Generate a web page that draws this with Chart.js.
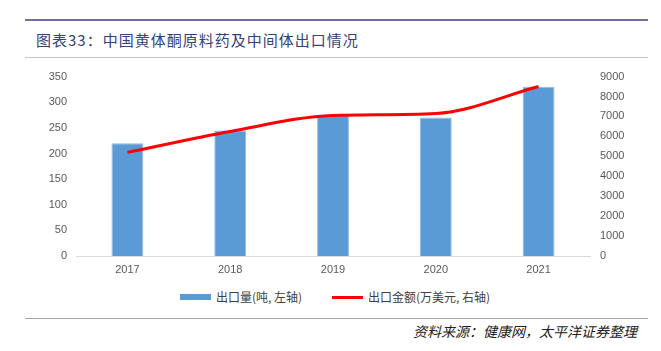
<!DOCTYPE html>
<html>
<head>
<meta charset="utf-8">
<script src="https://cdn.jsdelivr.net/npm/chart.js@4"></script>
<style>
  html, body { margin: 0; padding: 0; background: #fff; }
  #page { position: relative; width: 661px; height: 351px; overflow: hidden; font-family: "Noto Sans CJK SC", sans-serif; }
  .rule { position: absolute; left: 25px; width: 623px; }
  #top-rule { top: 19px; height: 2px; background: #6f6fa6; }
  #title-rule { top: 57px; height: 1px; background: #c3c3da; }
  #bottom-rule { top: 318px; height: 1px; background: #a3a3c2; }
  #title { position: absolute; left: 36px; top: 29px; font-size: 15px; color: #33427a; letter-spacing: 1px; white-space: nowrap; }
  #source { position: absolute; left: 413px; top: 321px; font-size: 14px; font-style: italic; color: #222; white-space: nowrap; }
  #wrap { position: absolute; left: 0; top: 60px; width: 661px; height: 222px; }
  .lg-box { position: absolute; }
  .lg-text { position: absolute; top: 288px; font-size: 12px; color: #404040; white-space: nowrap; line-height: 18px; }
</style>
</head>
<body>
<div id="page">
  <div class="rule" id="top-rule"></div>
  <div id="title">图表33：中国黄体酮原料药及中间体出口情况</div>
  <div class="rule" id="title-rule"></div>
  <div id="wrap"><canvas id="chart"></canvas></div>
  <div class="lg-box" style="left:180px; top:294px; width:31px; height:6px; background:#5b9bd5;"></div>
  <div class="lg-text" style="left:216px;">出口量(吨, 左轴)</div>
  <div class="lg-box" style="left:332px; top:296px; width:31px; height:3px; background:#ff0000;"></div>
  <div class="lg-text" style="left:368px;">出口金额(万美元, 右轴)</div>
  <div class="rule" id="bottom-rule"></div>
  <div id="source">资料来源：健康网，太平洋证券整理</div>
</div>
<script>
// 数据
const years = ['2017', '2018', '2019', '2020', '2021'];
const exportVolume = [220, 245, 275, 270, 330];      // 吨, 左轴
const exportValue = [5200, 6250, 7050, 7150, 8500];  // 万美元, 右轴
const leftTicks = [0, 50, 100, 150, 200, 250, 300, 350];
const rightTicks = [0, 1000, 2000, 3000, 4000, 5000, 6000, 7000, 8000, 9000];

const tickColor = '#595959';
const tickFont = { family: 'Liberation Sans, Arial, sans-serif', size: 11 };

const ctx = document.getElementById('chart').getContext('2d');
new Chart(ctx, {
    data: {
        labels: years,
        datasets: [
            {
                type: 'line',
                label: '出口金额(万美元,右轴)',
                data: exportValue,
                yAxisID: 'yR',
                borderColor: '#ff0000',
                borderWidth: 3,
                cubicInterpolationMode: 'monotone',
                pointRadius: 0,
                order: 0
            },
            {
                type: 'bar',
                label: '出口量(吨,左轴)',
                data: exportVolume,
                yAxisID: 'yL',
                backgroundColor: '#5b9bd5',
                borderColor: '#8fb9e3',
                borderWidth: 1,
                categoryPercentage: 1,
                barPercentage: 0.31,
                order: 1
            }
        ]
    },
    options: {
        responsive: true,
        maintainAspectRatio: false,
        animation: false,
        layout: { padding: { top: 15, left: 0, right: 0, bottom: 0 } },
        scales: {
            x: {
                grid: { display: false, drawTicks: false },
                border: { color: '#d9d9d9' },
                ticks: { color: tickColor, font: tickFont, padding: 7 },
                afterFit: s => { s.height = 26; }
            },
            yL: {
                position: 'left',
                min: 0, max: 350,
                afterBuildTicks: s => { s.ticks = leftTicks.map(v => ({ value: v })); },
                grid: { display: false, drawTicks: false },
                border: { display: false },
                ticks: { color: tickColor, font: tickFont, padding: 9 },
                afterFit: s => { s.width = 76; }
            },
            yR: {
                position: 'right',
                min: 0, max: 9000,
                afterBuildTicks: s => { s.ticks = rightTicks.map(v => ({ value: v })); },
                grid: { display: false, drawTicks: false },
                border: { display: false },
                ticks: { color: tickColor, font: tickFont, padding: 10, callback: v => String(v) },
                afterFit: s => { s.width = 71; }
            }
        },
        plugins: {
            tooltip: { enabled: false },
            legend: { display: false }
        }
    }
});
</script>
</body>
</html>
